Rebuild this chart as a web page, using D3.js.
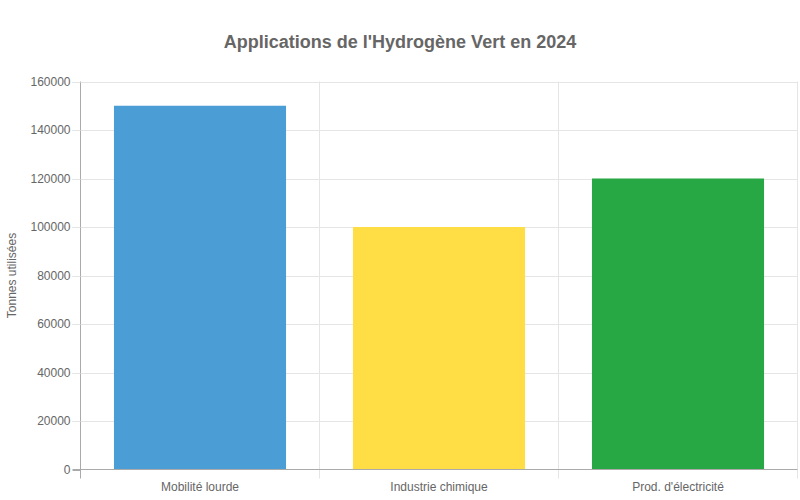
<!DOCTYPE html>
<html><head><meta charset="utf-8">
<script src="https://cdn.jsdelivr.net/npm/d3@7"></script>
<style>body{margin:0;background:#fff;}svg{display:block;font-family:"Liberation Sans",Arial,Helvetica,sans-serif;}</style>
</head><body>
<svg id="c" width="800" height="500"></svg>
<script>
const categories = ["Mobilité lourde", "Industrie chimique", "Prod. d'électricité"];
const values = [150000, 100000, 120000];
const colors = ["#4a9dd5", "#ffdd44", "#28a745"];
const yTicks = [0, 20000, 40000, 60000, 80000, 100000, 120000, 140000, 160000];
const title = "Applications de l'Hydrogène Vert en 2024";
const yLabel = "Tonnes utilisées";

const svg = d3.select("#c");
const L = 80.5, R = 797.5, T = 81.5, B = 469.5;
const x = d3.scaleBand().domain(categories).range([L, R]).paddingInner(0).paddingOuter(0);
const y = d3.scaleLinear().domain([0, 160000]).range([B, T]);

// horizontal grid
svg.append("g").selectAll("line").data(yTicks).join("line")
  .attr("x1", L - 8).attr("x2", R).attr("y1", d => Math.round(y(d)) + 0.5).attr("y2", d => Math.round(y(d)) + 0.5)
  .attr("stroke", d => d === 0 ? "none" : "#e5e5e5").attr("stroke-width", 1);
// vertical grid
const vx = categories.map(c => x(c)).concat([R]);
svg.append("g").selectAll("line").data(vx).join("line")
  .attr("x1", d => d).attr("x2", d => d).attr("y1", T).attr("y2", B + 9)
  .attr("stroke", (d, i) => i === 0 ? "none" : "#e5e5e5");

// bars
const bw = x.bandwidth() * 0.72;
svg.append("g").selectAll("rect").data(values).join("rect")
  .attr("x", (d, i) => x(categories[i]) + (x.bandwidth() - bw) / 2)
  .attr("width", bw)
  .attr("y", d => y(d))
  .attr("height", d => y(0) - y(d))
  .attr("fill", (d, i) => colors[i]);

// axes lines
svg.append("line").attr("x1", L).attr("x2", L).attr("y1", T).attr("y2", B + 9).attr("stroke", "#aaa");
svg.append("line").attr("x1", L - 8).attr("x2", R).attr("y1", B).attr("y2", B).attr("stroke", "#aaa");
// y tick marks
svg.append("g").selectAll("line").data(yTicks).join("line")
  .attr("x1", L - 8).attr("x2", L).attr("y1", d => Math.round(y(d)) + 0.5).attr("y2", d => Math.round(y(d)) + 0.5)
  .attr("stroke", d => d === 0 ? "#aaa" : "#e5e5e5");

// y tick labels
svg.append("g").selectAll("text").data(yTicks).join("text")
  .attr("x", L - 10).attr("y", d => y(d)).attr("dy", "0.35em")
  .attr("text-anchor", "end").attr("font-size", 12).attr("fill", "#666")
  .text(d => d);

// x labels
svg.append("g").selectAll("text").data(categories).join("text")
  .attr("x", d => x(d) + x.bandwidth() / 2).attr("y", 491)
  .attr("text-anchor", "middle").attr("font-size", 12).attr("fill", "#666")
  .text(d => d);

// title
svg.append("text").attr("x", 400).attr("y", 48).attr("text-anchor", "middle")
  .attr("font-size", 18).attr("font-weight", "bold").attr("fill", "#666").text(title);

// y label
svg.append("text").attr("transform", `translate(16,${(T + B) / 2}) rotate(-90)`)
  .attr("text-anchor", "middle").attr("font-size", 12).attr("fill", "#666").text(yLabel);
</script>
</body></html>
